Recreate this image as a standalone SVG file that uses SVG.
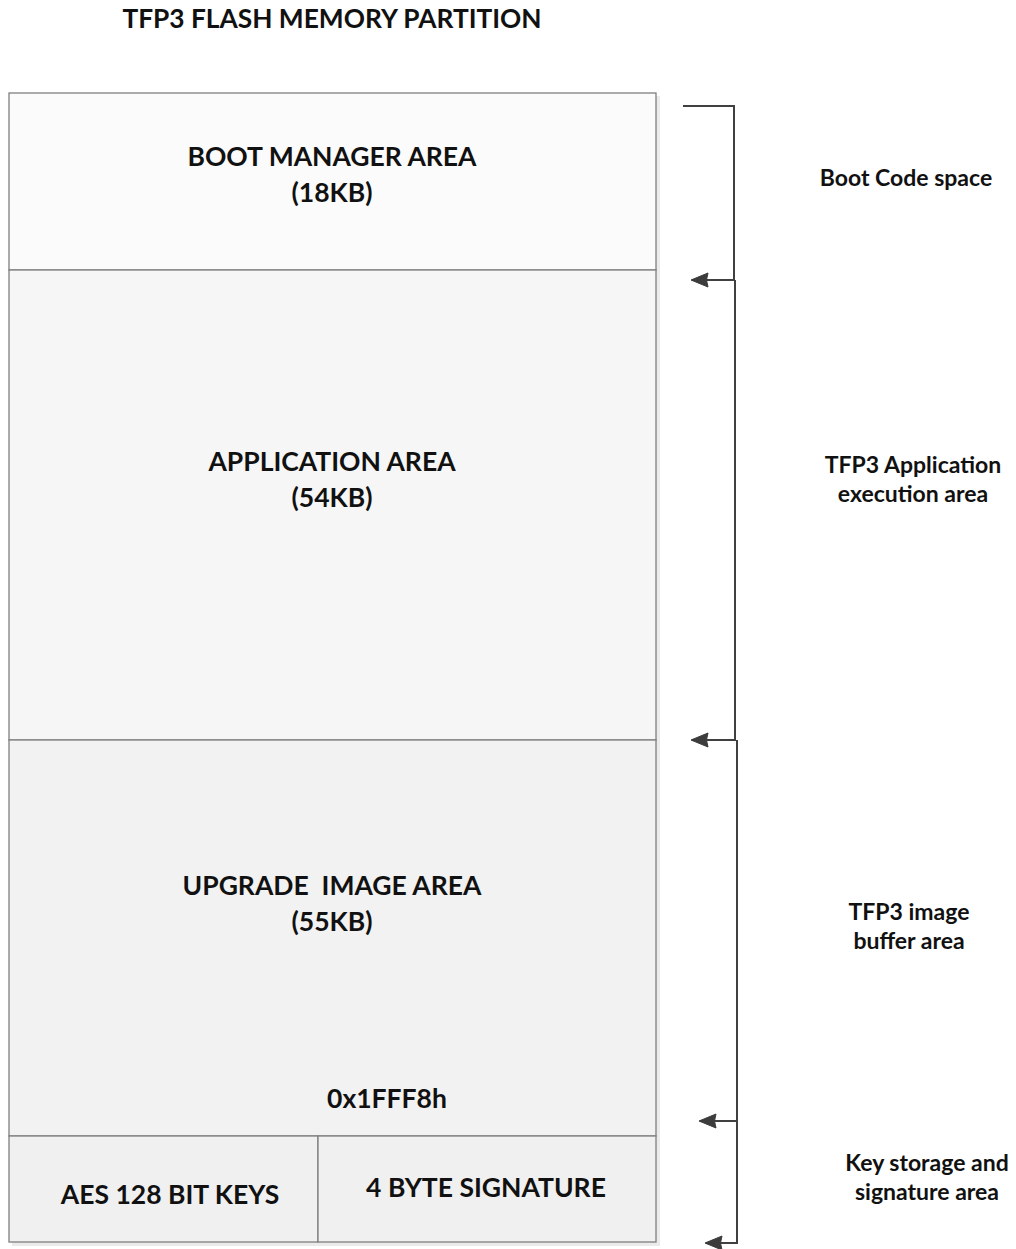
<svg xmlns="http://www.w3.org/2000/svg" width="1016" height="1249" viewBox="0 0 1016 1249">
<style>
text{font-family:Lato,"Open Sans","Liberation Sans",sans-serif;font-weight:bold;fill:#111;text-anchor:middle}
.t{font-size:26.3px}
.b{font-size:26.5px}
.r{font-size:23px}
.box{stroke:#7f7f7f;stroke-width:1.3}
.c{fill:none;stroke:#404040;stroke-width:2}
</style>
<defs>
<marker id="a" markerWidth="18" markerHeight="16" refX="16" refY="8" orient="auto" markerUnits="userSpaceOnUse" overflow="visible">
<path d="M17,8 L0,1 L1.5,8 L0,15 Z" fill="#3c3c3c" stroke="#3c3c3c" stroke-width="1" stroke-linejoin="round"/>
</marker>
</defs>
<text class="t" x="332" y="28">TFP3 FLASH MEMORY PARTITION</text>
<rect x="12" y="96" width="648" height="1150" fill="#e2e2e2" opacity="0.7"/>
<g id="boot">
<rect class="box" x="9" y="93" width="647" height="177" fill="#fbfbfb"/>
<text class="b" x="332" y="166">BOOT MANAGER AREA</text>
<text class="b" x="332" y="202">(18KB)</text>
</g>
<g id="application">
<rect class="box" x="9" y="270" width="647" height="470" fill="#f6f6f6"/>
<text class="b" x="332" y="471">APPLICATION AREA</text>
<text class="b" x="332" y="507">(54KB)</text>
</g>
<g id="upgrade">
<rect class="box" x="9" y="740" width="647" height="396" fill="#f2f2f2"/>
<text class="b" x="332" y="895" xml:space="preserve">UPGRADE  IMAGE AREA</text>
<text class="b" x="332" y="931">(55KB)</text>
<text class="b" x="387" y="1108">0x1FFF8h</text>
</g>
<g id="aes">
<rect class="box" x="9" y="1136" width="309" height="106" fill="#f0f0f0"/>
<text class="b" x="170" y="1204">AES 128 BIT KEYS</text>
</g>
<g id="sig">
<rect class="box" x="318" y="1136" width="338" height="106" fill="#f0f0f0"/>
<text class="b" x="486" y="1197">4 BYTE SIGNATURE</text>
</g>
<g id="connectors">
<polyline class="c" points="683,106 734,106 734,280 692,280" marker-end="url(#a)"/>
<polyline class="c" points="735,280 735,740 692,740" marker-end="url(#a)"/>
<polyline class="c" points="737,740 737,1121 700,1121" marker-end="url(#a)"/>
<polyline class="c" points="737,1121 737,1243 706,1243" marker-end="url(#a)"/>
</g>
<g id="labels">
<text class="r" x="906" y="186">Boot Code space</text>
<text class="r" x="913" y="473">TFP3 Application</text>
<text class="r" x="913" y="502">execution area</text>
<text class="r" x="909" y="920">TFP3 image</text>
<text class="r" x="909" y="949">buffer area</text>
<text class="r" x="927" y="1171">Key storage and</text>
<text class="r" x="927" y="1200">signature area</text>
</g>
</svg>
